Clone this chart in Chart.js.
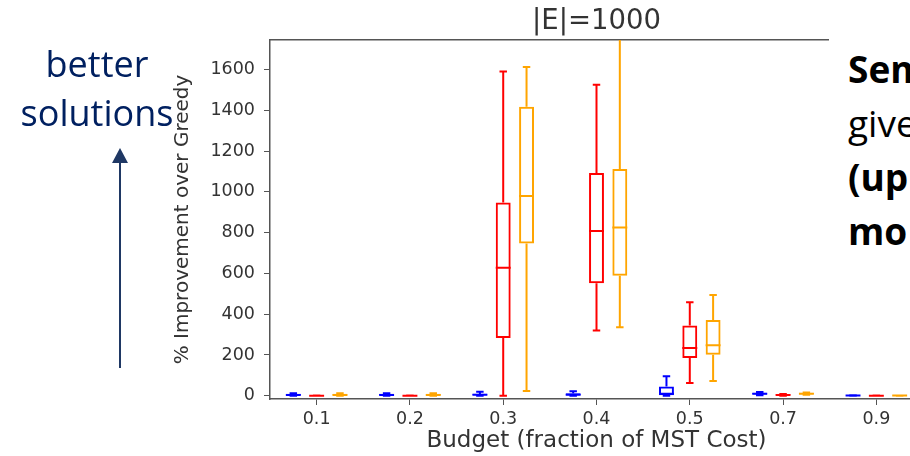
<!DOCTYPE html>
<html>
<head>
<meta charset="utf-8">
<script src="https://cdn.jsdelivr.net/npm/chart.js@4.4.0/dist/chart.umd.min.js"></script>
<style>
  html, body { margin: 0; padding: 0; overflow: hidden; background: #fff; }
  body { width: 910px; height: 456px; position: relative; }
  #wrap { position: absolute; left: 0; top: 0; width: 923px; height: 456px; }
  #note { position: absolute; left: 2px; top: 39px; width: 190px; text-align: center;
          font-family: "Open Sans", sans-serif; font-size: 36px; line-height: 49px; color: #002060; }
  #arrow { position: absolute; left: 0; top: 0; }
  #box { position: absolute; left: 829px; top: 28px; width: 100px; height: 345px; background: #fff;
         font-family: "Open Sans", sans-serif; font-size: 37px; line-height: 54px; color: #000;
         padding-left: 19px; padding-top: 14px; box-sizing: border-box; white-space: nowrap; }
  #box b { font-weight: 700; }
</style>
</head>
<body>
<div id="wrap"><canvas id="boxChart"></canvas></div>
<div id="note">better<br>solutions</div>
<svg id="arrow" width="200" height="456">
  <line x1="120" y1="368" x2="120" y2="160" stroke="#1f3864" stroke-width="2"/>
  <polygon points="112,163 128,163 120,148" fill="#1f3864"/>
</svg>
<div id="box"><b>Sem</b><br>give<br><b>(up</b><br><b>mo</b></div>
<script>
var budgets = ['0.1', '0.2', '0.3', '0.4', '0.5', '0.7', '0.9'];
var yTicks = [0, 200, 400, 600, 800, 1000, 1200, 1400, 1600];

// box stats per budget: lower whisker, Q1, median, Q3, upper whisker
var blueLow  = [0, 0, 0, 0, 0, 3, 0];
var blueQ1   = [0, 0, 0, 0, 2, 6, 0];
var blueMed  = [4, 4, 5, 5, 10, 10, 1];
var blueQ3   = [10, 10, 10, 12, 45, 15, 2];
var blueHigh = [12, 12, 20, 22, 95, 18, 3];

var redLow  = [0, 0, 0, 320, 62, 0, 0];
var redQ1   = [0, 0, 283, 552, 185, 2, 0];
var redMed  = [0, 0, 628, 808, 234, 4, 0];
var redQ3   = [1, 1, 948, 1092, 344, 7, 1];
var redHigh = [1, 1, 1590, 1525, 458, 8, 1];

var orangeLow  = [0, 0, 23, 336, 72, 5, 0];
var orangeQ1   = [1, 1, 747, 588, 201, 7, 0];
var orangeMed  = [4, 4, 980, 825, 248, 10, 1];
var orangeQ3   = [10, 10, 1417, 1112, 372, 15, 1];
var orangeHigh = [12, 12, 1612, 1800, 494, 16, 1];

function boxDataset(name, color, low, q1, med, q3, high) {
  return {
    label: name,
    data: q1.map((v, i) => [v, q3[i]]),
    low: low, med: med, high: high,
    backgroundColor: 'transparent',
    borderColor: color,
    borderWidth: 2,
    borderSkipped: false,
    categoryPercentage: 0.75,
    barPercentage: 0.64
  };
}

// whiskers, caps and medians on top of the floating bars
var whiskerPlugin = {
  id: 'whiskers',
  afterDatasetsDraw(chart) {
    var ctx = chart.ctx, ys = chart.scales.y, area = chart.chartArea;
    ctx.save();
    ctx.beginPath();
    ctx.rect(area.left, area.top, area.right - area.left, area.bottom - area.top);
    ctx.clip();
    chart.data.datasets.forEach((ds, d) => {
      var meta = chart.getDatasetMeta(d);
      ctx.strokeStyle = ds.borderColor;
      ctx.lineWidth = 2;
      meta.data.forEach((bar, i) => {
        var x = bar.x, half = bar.width / 2, cap = bar.width / 4;
        var lo = ys.getPixelForValue(ds.low[i]);
        var q1 = ys.getPixelForValue(ds.data[i][0]);
        var md = ys.getPixelForValue(ds.med[i]);
        var q3 = ys.getPixelForValue(ds.data[i][1]);
        var hi = ys.getPixelForValue(ds.high[i]);
        ctx.beginPath();
        ctx.moveTo(x, q1); ctx.lineTo(x, lo);
        ctx.moveTo(x - cap, lo); ctx.lineTo(x + cap, lo);
        ctx.moveTo(x, q3); ctx.lineTo(x, hi);
        ctx.moveTo(x - cap, hi); ctx.lineTo(x + cap, hi);
        ctx.moveTo(x - half, md); ctx.lineTo(x + half, md);
        ctx.stroke();
      });
    });
    ctx.restore();
  }
};

var axisColor = '#555';
var textColor = '#333';

var ctxB = document.getElementById('boxChart').getContext('2d');
var myChart = new Chart(ctxB, {
  type: 'bar',
  data: {
    labels: budgets,
    datasets: [
      boxDataset('blue', '#0000ff', blueLow, blueQ1, blueMed, blueQ3, blueHigh),
      boxDataset('red', '#ff0000', redLow, redQ1, redMed, redQ3, redHigh),
      boxDataset('orange', '#ffa500', orangeLow, orangeQ1, orangeMed, orangeQ3, orangeHigh)
    ]
  },
  options: {
    responsive: true,
    maintainAspectRatio: false,
    animation: false,
    layout: { padding: 0 },
    plugins: { legend: { display: false }, tooltip: { enabled: false } },
    scales: {
      x: {
        position: 'bottom',
        offset: true,
        grid: { display: true, drawOnChartArea: false, drawTicks: true, tickLength: 6, color: axisColor, offset: false },
        border: { display: true, color: axisColor, width: 1.5 },
        ticks: { color: textColor, padding: 4, font: { family: 'DejaVu Sans', size: 17.5 } },
        title: { display: true, text: 'Budget (fraction of MST Cost)', color: textColor,
                 padding: { top: 0, bottom: 1 }, font: { family: 'DejaVu Sans', size: 23 } },
        afterFit: function (scale) { scale.height = 57; }
      },
      x2: {
        position: 'top',
        type: 'category',
        labels: budgets,
        offset: true,
        grid: { display: false },
        border: { display: true, color: axisColor, width: 1.5 },
        ticks: { display: false },
        title: { display: true, text: '|E|=1000', color: textColor,
                 padding: { top: 5, bottom: 0 }, font: { family: 'DejaVu Sans', size: 27.5 } },
        afterFit: function (scale) { scale.height = 40; }
      },
      y: {
        min: -16,
        max: 1745,
        grid: { display: true, drawOnChartArea: false, drawTicks: true, tickLength: 6, color: axisColor },
        border: { display: true, color: axisColor, width: 1.5 },
        ticks: { color: textColor, padding: 9, font: { family: 'DejaVu Sans', size: 17.5 },
                 callback: function (value) { return String(value); } },
        title: { display: true, text: '% Improvement over Greedy', color: textColor,
                 padding: { top: 171, bottom: 0 }, font: { family: 'DejaVu Sans', size: 20 } },
        afterBuildTicks: function (scale) { scale.ticks = yTicks.map(v => ({ value: v })); },
        afterFit: function (scale) { scale.width = 270; }
      }
    }
  },
  plugins: [whiskerPlugin]
});
</script>
</body>
</html>
